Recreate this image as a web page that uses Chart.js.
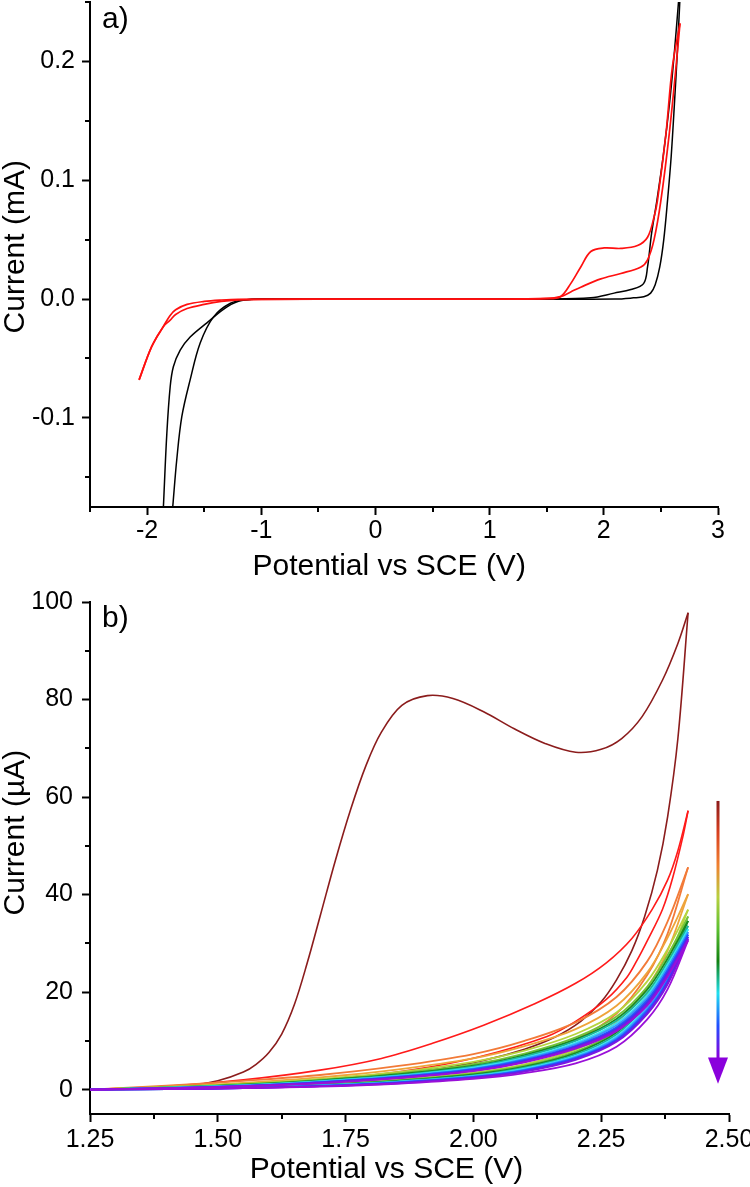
<!DOCTYPE html>
<html>
<head>
<meta charset="utf-8">
<script src="https://cdn.jsdelivr.net/npm/chart.js@4.4.1/dist/chart.umd.min.js"></script>
<style>
  html, body { margin: 0; padding: 0; background: #fff; }
  #wrap { position: relative; width: 750px; height: 1187px; }
  canvas { position: absolute; left: 0; }
  #chartA { top: 0; }
  #chartB { top: 590px; }
</style>
</head>
<body>
<div id="wrap">
  <canvas id="chartA" width="750" height="590"></canvas>
  <canvas id="chartB" width="750" height="597"></canvas>
</div>
<script>
// ---- panel a) : full window CVs (mA) ----
const aBlack1V = [-1.884, -1.857, -1.827, -1.798, -1.77, -1.71, -1.623, -1.476, -1.30, -1.16, -0.9, 0, 1.5, 2.1, 2.26, 2.35, 2.41, 2.45, 2.49, 2.525, 2.558, 2.59, 2.62, 2.645, 2.675];
const aBlack1I = [-0.23, -0.1745, -0.113, -0.074, -0.057, -0.043, -0.032, -0.020, -0.0065, -0.001, 0, 0, 0, 0, 0.001, 0.002, 0.005, 0.012, 0.027, 0.05, 0.083, 0.12, 0.167, 0.21, 0.27];
const aBlack2V = [-1.824, -1.775, -1.74, -1.696, -1.623, -1.535, -1.418, -1.27, -1.13, -0.9, 0, 1.5, 1.886, 2.09, 2.237, 2.348, 2.383, 2.418, 2.465, 2.52, 2.578, 2.62, 2.655, 2.672];
const aBlack2I = [-0.23, -0.1745, -0.135, -0.099, -0.068, -0.037, -0.015, -0.0035, -0.0005, 0, 0, 0, 0.001, 0.005, 0.008, 0.013, 0.027, 0.055, 0.083, 0.12, 0.167, 0.21, 0.251, 0.27];
const aRed1V = [-2.07, -1.96, -1.857, -1.80, -1.75, -1.65, -1.5, -1.35, -1.2, -1.0, 0, 1.0, 1.5, 1.62, 1.71, 1.798, 1.974, 2.149, 2.325, 2.383, 2.44, 2.5, 2.573, 2.632, 2.667];
const aRed1I = [-0.068, -0.040, -0.023, -0.018, -0.013, -0.008, -0.0045, -0.002, -0.0007, -0.0002, 0, 0, 0.0005, 0.002, 0.006, 0.010, 0.017, 0.0215, 0.027, 0.033, 0.050, 0.083, 0.139, 0.195, 0.232];
const aRed2V = [-2.07, -1.96, -1.857, -1.80, -1.75, -1.65, -1.5, -1.35, -1.2, 0, 1.0, 1.5, 1.62, 1.71, 1.798, 1.886, 2.003, 2.149, 2.295, 2.383, 2.44, 2.47, 2.544, 2.60, 2.667];
const aRed2I = [-0.068, -0.040, -0.023, -0.014, -0.009, -0.0045, -0.002, -0.0008, -0.0002, 0, 0, 0.0003, 0.002, 0.013, 0.027, 0.040, 0.043, 0.0426, 0.045, 0.052, 0.069, 0.083, 0.139, 0.195, 0.232];
const aMinorX = [-2.5, -1.5, -0.5, 0.5, 1.5, 2.5];
const aMinorY = [-0.15, -0.05, 0.05, 0.15, 0.25];

// ---- panel b) : repeated scans (µA) ----
const bBrownFwdV = [1.25, 1.35, 1.45, 1.50, 1.55, 1.575, 1.60, 1.625, 1.65, 1.675, 1.70, 1.73, 1.76, 1.79, 1.82, 1.86, 1.91, 1.96, 2.02, 2.08, 2.14, 2.20, 2.25, 2.29, 2.33, 2.37, 2.40, 2.42];
const bBrownFwdI = [0, 0.2, 0.9, 1.8, 3.6, 5.2, 7.6, 11.4, 17.5, 26.0, 35.5, 47.0, 57.5, 66.5, 73.3, 78.8, 80.8, 80.2, 77.5, 74.0, 71.0, 69.2, 69.8, 72.0, 76.5, 84.0, 91.5, 97.8];
const bBrownRevV = [1.25, 1.35, 1.5, 1.65, 1.8, 1.92, 2.02, 2.10, 2.16, 2.21, 2.25, 2.28, 2.31, 2.335, 2.36, 2.38, 2.40, 2.42];
const bBrownRevI = [0, 0.15, 0.6, 1.3, 2.5, 4.0, 6.0, 8.3, 10.8, 14.0, 18.0, 22.5, 28.5, 35.5, 45.0, 56.0, 72.0, 97.8];
const bRedUpV = [1.25, 1.4, 1.55, 1.70, 1.82, 1.92, 2.02, 2.12, 2.20, 2.26, 2.31, 2.35, 2.38, 2.40, 2.42];
const bRedUpI = [0, 0.7, 2.0, 4.0, 6.4, 9.5, 13.2, 17.6, 21.8, 26.0, 31.0, 37.0, 43.0, 49.0, 57.2];
const bRedLoV = [1.25, 1.45, 1.6, 1.75, 1.884, 2.014, 2.144, 2.20, 2.26, 2.30, 2.32, 2.34, 2.37, 2.39, 2.41, 2.42];
const bRedLoI = [0, 0.6, 1.3, 2.4, 4.1, 6.8, 10.9, 14.0, 18.5, 23.0, 26.5, 30.5, 37.0, 43.5, 52.0, 57.2];

const bPot = [1.25, 1.40, 1.55, 1.70, 1.85, 2.00, 2.10, 2.20, 2.28, 2.34, 2.38, 2.42];
const bScanColors = ['#f27a38', '#eea43a', '#b7d43e', '#74c43a', '#1a8c1f', '#1cb59c', '#35e2f2', '#3497ff', '#2456ff', '#4a2cf0', '#7a18e2', '#9a10d8'];
const bScanUp = [
  [0, 0.8, 1.8, 3.0, 4.8, 7.3, 10.0, 13.8, 19.0, 26.3, 34.5, 45.6],
  [0, 0.6, 1.4, 2.5, 4.1, 6.4, 8.9, 12.4, 17.2, 24.0, 31.2, 40.1],
  [0, 0.5, 1.2, 2.2, 3.6, 5.7, 8.0, 11.4, 15.8, 22.2, 28.8, 36.9],
  [0, 0.5, 1.1, 2.0, 3.3, 5.2, 7.4, 10.7, 15.0, 21.1, 27.6, 35.5],
  [0, 0.4, 1.0, 1.9, 3.1, 4.9, 7.1, 10.3, 14.5, 20.5, 26.9, 34.6],
  [0, 0.4, 0.9, 1.8, 2.9, 4.7, 6.8, 10.0, 14.1, 19.9, 26.2, 33.6],
  [0, 0.4, 0.9, 1.7, 2.8, 4.5, 6.5, 9.6, 13.6, 19.3, 25.6, 32.9],
  [0, 0.3, 0.8, 1.6, 2.7, 4.3, 6.3, 9.3, 13.2, 18.8, 25.0, 32.3],
  [0, 0.3, 0.8, 1.5, 2.6, 4.2, 6.1, 9.0, 12.8, 18.3, 24.5, 31.8],
  [0, 0.3, 0.7, 1.5, 2.5, 4.0, 5.9, 8.8, 12.5, 17.9, 24.0, 31.3],
  [0, 0.3, 0.7, 1.4, 2.4, 3.9, 5.7, 8.6, 12.2, 17.5, 23.6, 30.9],
  [0, 0.3, 0.7, 1.3, 2.3, 3.8, 5.6, 8.4, 12.0, 17.2, 23.2, 30.6]
];
const bScanLo = [
  [0, 0.3, 0.8, 1.6, 2.8, 4.6, 6.8, 10.3, 15.6, 23.5, 32.0, 45.6],
  [0, 0.2, 0.6, 1.3, 2.3, 3.9, 5.8, 9.0, 13.8, 21.0, 28.5, 40.1],
  [0, 0.2, 0.5, 1.1, 2.0, 3.5, 5.2, 8.2, 12.7, 19.5, 26.5, 36.9],
  [0, 0.2, 0.5, 1.0, 1.9, 3.3, 4.9, 7.8, 12.1, 18.7, 25.5, 35.5],
  [0, 0.2, 0.5, 1.0, 1.8, 3.1, 4.7, 7.5, 11.7, 18.2, 24.8, 34.6],
  [0, 0.1, 0.4, 0.9, 1.7, 2.9, 4.5, 7.2, 11.3, 17.6, 24.0, 33.6],
  [0, 0.1, 0.4, 0.9, 1.6, 2.8, 4.3, 6.9, 10.9, 17.1, 23.4, 32.9],
  [0, 0.1, 0.4, 0.8, 1.5, 2.7, 4.1, 6.7, 10.6, 16.6, 22.8, 32.3],
  [0, 0.1, 0.3, 0.8, 1.5, 2.6, 4.0, 6.5, 10.3, 16.2, 22.4, 31.8],
  [0, 0.1, 0.3, 0.7, 1.4, 2.5, 3.8, 6.3, 10.0, 15.8, 22.0, 31.3],
  [0, 0.1, 0.3, 0.7, 1.3, 2.4, 3.7, 6.1, 9.8, 15.5, 21.6, 30.9],
  [0, 0.1, 0.3, 0.6, 1.2, 2.2, 3.4, 5.4, 8.8, 14.4, 20.6, 30.6]
];
const bMinorX = [1.375, 1.625, 1.875, 2.125, 2.375];
const bMinorY = [10, 30, 50, 70, 90];
const arrowStops = ['#8b1a1a', '#d8401f', '#f08030', '#b8d040', '#5cc030', '#108010', '#20e0f0', '#2050ff', '#8a00dc'];

const FONT = "'Liberation Sans', Arial, sans-serif";
Chart.defaults.font.family = FONT;
Chart.defaults.color = '#000';

const pts = (xs, ys) => xs.map((x, i) => ({ x: x, y: ys[i] }));
const line = (data, color, order, width) => ({
  data: data, borderColor: color, borderWidth: width || 1.6, pointRadius: 0,
  tension: 0.35, fill: false, order: order
});

// minor tick marks, drawn through the chart's own scales
const minorTicks = {
  id: 'minorTicks',
  afterDraw(chart, args, opts) {
    const ctx = chart.ctx, xs = chart.scales.x, ys = chart.scales.y;
    ctx.save();
    ctx.strokeStyle = '#000';
    ctx.lineWidth = 2;
    ctx.beginPath();
    opts.x.forEach(v => {
      const px = Math.round(xs.getPixelForValue(v));
      ctx.moveTo(px, xs.top); ctx.lineTo(px, xs.top + 5);
    });
    opts.y.forEach(v => {
      const py = Math.round(ys.getPixelForValue(v));
      ctx.moveTo(ys.right - 5, py); ctx.lineTo(ys.right, py);
    });
    ctx.stroke();
    ctx.restore();
  }
};

// panel letter and axis titles
const panelText = {
  id: 'panelText',
  afterDraw(chart, args, opts) {
    const ctx = chart.ctx, xs = chart.scales.x, ys = chart.scales.y;
    ctx.save();
    ctx.font = '30px ' + FONT;
    ctx.fillStyle = '#000';
    ctx.textBaseline = 'top';
    ctx.fillText(opts.label, chart.chartArea.left + 12, chart.chartArea.top + opts.labelDy);
    ctx.textAlign = 'center';
    ctx.textBaseline = 'alphabetic';
    ctx.fillText('Potential vs SCE (V)', xs.getPixelForValue(opts.xTitleAt), xs.top + opts.xTitleDy);
    ctx.translate(24, ys.getPixelForValue(opts.yTitleAt));
    ctx.rotate(-Math.PI / 2);
    ctx.fillText(opts.yTitle, 0, 0);
    ctx.restore();
  }
};

const gradArrow = {
  id: 'gradArrow',
  afterDatasetsDraw(chart, args, opts) {
    if (!opts.at) return;
    const ctx = chart.ctx, xs = chart.scales.x, ys = chart.scales.y;
    const px = Math.round(xs.getPixelForValue(opts.at));
    const top = ys.getPixelForValue(opts.from);
    const base = ys.getPixelForValue(opts.headBase);
    const tip = ys.getPixelForValue(opts.to);
    const g = ctx.createLinearGradient(0, top, 0, base);
    opts.stops.forEach((c, i) => g.addColorStop(i / (opts.stops.length - 1), c));
    ctx.save();
    ctx.fillStyle = g;
    ctx.fillRect(px - 1.5, top, 3, base - top + 1);
    ctx.fillStyle = opts.stops[opts.stops.length - 1];
    ctx.beginPath();
    ctx.moveTo(px - 10, base); ctx.lineTo(px + 10, base); ctx.lineTo(px, tip);
    ctx.closePath(); ctx.fill();
    ctx.restore();
  }
};

function axis(min, max, step, fmt, tickPad) {
  return {
    type: 'linear', min: min, max: max,
    grid: { drawOnChartArea: false, drawTicks: true, tickLength: 8, tickWidth: 2, tickColor: '#000', color: '#000' },
    border: { display: true, color: '#000', width: 2 },
    ticks: { stepSize: step, includeBounds: false, padding: tickPad, font: { size: 25 }, color: '#000',
             maxRotation: 0, autoSkip: false, callback: v => fmt(v) }
  };
}

function build(canvasId, datasets, cfg) {
  const xAx = axis(cfg.xMin, cfg.xMax, cfg.xStep, cfg.xFmt, cfg.xTickPad);
  xAx.afterFit = s => { s.height = cfg.xHeight; s.paddingLeft = 0; s.paddingRight = 0; };
  const yAx = axis(cfg.yMin, cfg.yMax, cfg.yStep, cfg.yFmt, cfg.yTickPad);
  yAx.afterFit = s => { s.width = 90; s.paddingTop = 0; s.paddingBottom = 0; };
  return new Chart(document.getElementById(canvasId), {
    type: 'line',
    data: { datasets: datasets },
    options: {
      responsive: false, animation: false, devicePixelRatio: 1,
      layout: { padding: { top: cfg.padTop, right: cfg.padRight, left: 0, bottom: 0 } },
      plugins: {
        legend: { display: false }, tooltip: { enabled: false },
        minorTicks: { x: cfg.minorX, y: cfg.minorY },
        panelText: { label: cfg.label, labelDy: cfg.labelDy, yTitle: cfg.yTitle, yTitleAt: cfg.yTitleAt,
                     xTitleAt: cfg.xTitleAt, xTitleDy: cfg.xTitleDy },
        gradArrow: cfg.arrow || {}
      },
      scales: { x: xAx, y: yAx }
    },
    plugins: [minorTicks, panelText, gradArrow]
  });
}

// panel a
build('chartA', [
  line(pts(aBlack1V, aBlack1I), '#000000', 2, 1.5),
  line(pts(aBlack2V, aBlack2I), '#000000', 2, 1.5),
  line(pts(aRed1V, aRed1I), '#ff1010', 1, 1.7),
  line(pts(aRed2V, aRed2I), '#ff1010', 1, 1.7)
], {
  xMin: -2.5, xMax: 3, xStep: 1, xFmt: v => String(v),
  yMin: -0.175, yMax: 0.25, yStep: 0.1, yFmt: v => v.toFixed(1), yTitle: 'Current (mA)', yTitleAt: 0.044,
  xTitleAt: 0.12, xTitleDy: 68,
  xTickPad: 1, yTickPad: 7, xHeight: 83,
  padTop: 2, padRight: 32, minorX: aMinorX, minorY: aMinorY, label: 'a)', labelDy: 3
});

// panel b
const bSets = [
  line(pts(bBrownFwdV, bBrownFwdI), '#8b1c1c', 20),
  line(pts(bBrownRevV, bBrownRevI), '#8b1c1c', 20),
  line(pts(bRedUpV, bRedUpI), '#ff1a1a', 19),
  line(pts(bRedLoV, bRedLoI), '#ff1a1a', 19)
];
bScanColors.forEach((c, k) => {
  bSets.push(line(pts(bPot, bScanUp[k]), c, 18 - k, 1.8));
  bSets.push(line(pts(bPot, bScanLo[k]), c, 18 - k, 1.8));
});
build('chartB', bSets, {
  xMin: 1.25, xMax: 2.5, xStep: 0.25, xFmt: v => v.toFixed(2),
  yMin: -5, yMax: 100, yStep: 20, yFmt: v => String(Math.round(v)), yTitle: 'Current (µA)', yTitleAt: 52.7,
  xTitleAt: 1.83, xTitleDy: 64,
  xTickPad: 3, yTickPad: 9, xHeight: 73,
  padTop: 12, padRight: 21, minorX: bMinorX, minorY: bMinorY, label: 'b)', labelDy: 2,
  arrow: { at: 2.4785, from: 59.2, headBase: 6.6, to: 1.2, stops: arrowStops }
});
</script>
</body>
</html>
